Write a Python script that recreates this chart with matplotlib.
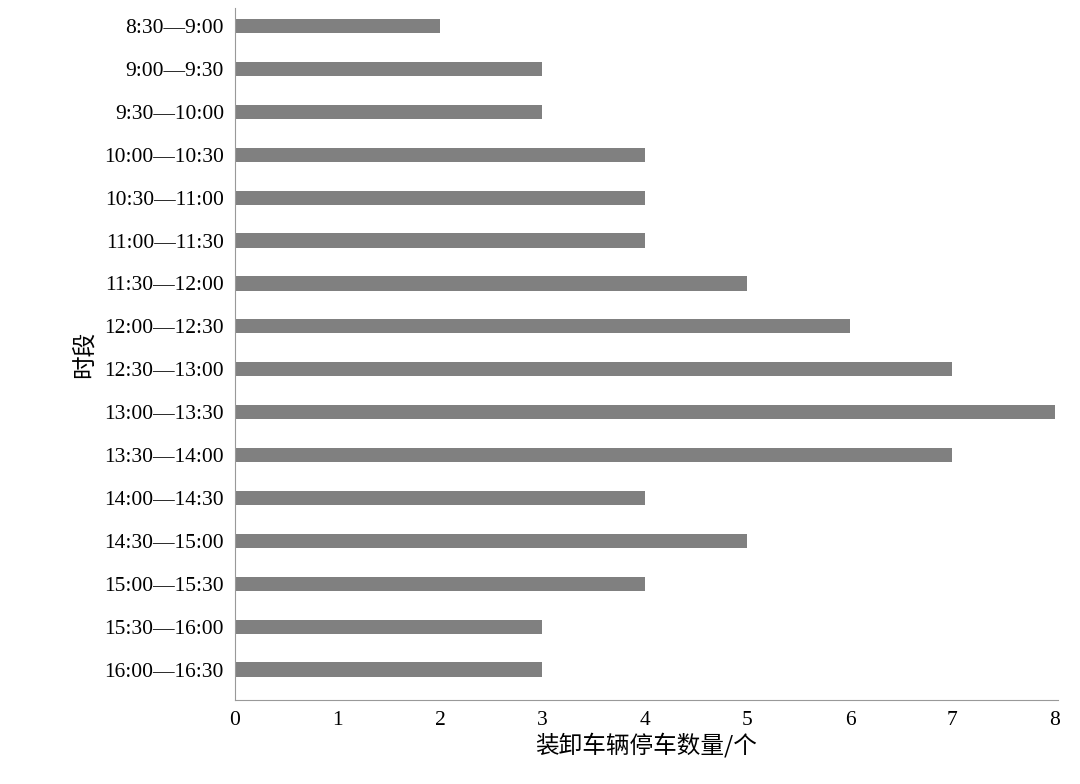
import matplotlib
matplotlib.use("Agg")
import matplotlib.pyplot as plt

periods = ["8:30—9:00","9:00—9:30","9:30—10:00","10:00—10:30","10:30—11:00","11:00—11:30",
           "11:30—12:00","12:00—12:30","12:30—13:00","13:00—13:30","13:30—14:00","14:00—14:30",
           "14:30—15:00","15:00—15:30","15:30—16:00","16:00—16:30"]
counts = [2,3,3,4,4,4,5,6,7,8,7,4,5,4,3,3]
xticks = [0,1,2,3,4,5,6,7,8]

fig = plt.figure(figsize=(10.8,7.84), dpi=100)
ax = fig.add_axes([235/1080, 84/784, 823/1080, 692/784])
ax.barh(range(len(periods)), counts, height=0.33, color="#808080")
ax.set_ylim(15.71, -0.42)
ax.set_xlim(0, 8.03)
ax.set_yticks(range(len(periods)))
ax.set_yticklabels(periods, fontfamily="Liberation Serif", fontsize=15.5)
ax.set_xticks(xticks)
ax.set_xticklabels([str(v) for v in xticks], fontfamily="Liberation Serif", fontsize=15.5)
ax.tick_params(length=0, pad=8)
for s in ["top","right"]:
    ax.spines[s].set_visible(False)
for s in ["left","bottom"]:
    ax.spines[s].set_color("#999999")
ax.set_xlabel("装卸车辆停车数量/个", fontfamily=["Noto Sans CJK SC","DejaVu Sans"], fontsize=17, labelpad=2)
ax.set_ylabel("时段", fontfamily=["Noto Sans CJK SC","DejaVu Sans"], fontsize=17, labelpad=6)
fig.savefig("out.png", dpi=100)
